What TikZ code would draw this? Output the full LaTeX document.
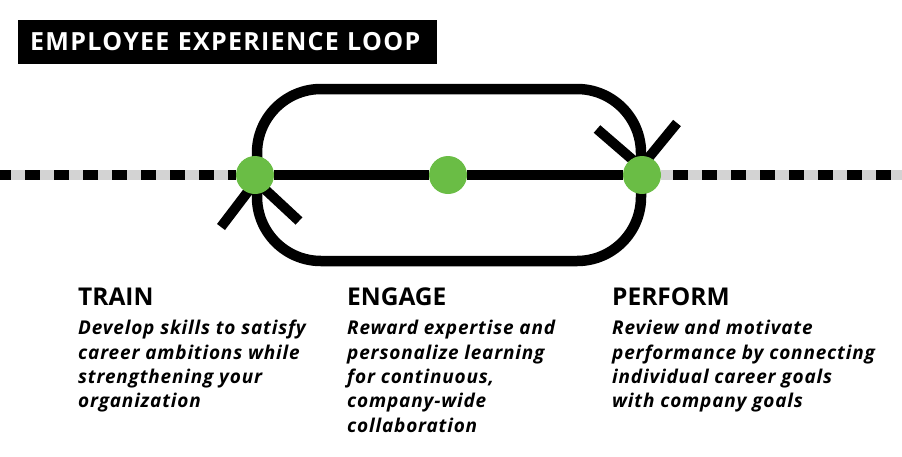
\documentclass[tikz,border=0pt]{standalone}
\usepackage{fontspec}
\setmainfont{Open Sans}
\usepackage{tikz}
\usetikzlibrary{backgrounds}
\usetikzlibrary{positioning}
\definecolor{leafgreen}{HTML}{6ABD45}
\definecolor{railgray}{HTML}{D3D3D3}
\tikzset{station/.style={circle,fill=leafgreen,minimum size=38pt,inner sep=0pt}}
\tikzset{
rail/.style={line width=10pt,black},
dashrail/.style={line width=10pt,black,dash pattern=on 14.5pt off 14.5pt},
loopbox/.style={draw,line width=10.5pt,rounded corners=64pt,minimum width=384pt,minimum height=172pt,inner sep=0pt},
titlebox/.style={fill=black,text=white,font=\fontsize{25}{28}\bfseries\addfontfeature{LetterSpace=5.2},inner xsep=12pt,minimum height=44pt,minimum width=419pt,anchor=west,align=left,text width=395pt},
stagehead/.style={font=\fontsize{24.5}{28}\bfseries,inner sep=0pt,anchor=base west},
stagetext/.style={font=\fontsize{19}{24.4}\bfseries\itshape\addfontfeature{LetterSpace=4.3},inner sep=0pt,anchor=north west,align=left}
}

\begin{document}
\begin{tikzpicture}[x=1pt,y=-1pt,node distance=0.2cm]
\useasboundingbox (0,0) rectangle (902,456);

\node[titlebox] (title) at (18,42) {EMPLOYEE EXPERIENCE LOOP};

% the three stops on the line
\node[station] (T) at (255,175) {};
\node[station] (E) at (448,175) {};
\node[station] (P) at (642,175) {};

\coordinate (lend) at (0,175);
\coordinate (rend) at (902,175);
\coordinate (ta) at (256,181);
\coordinate (tl) at (221,227);
\coordinate (tr) at (299,221);
\coordinate (pa) at (641,167);
\coordinate (pl) at (597,129);
\coordinate (pr) at (677,123);

\begin{scope}[on background layer]
 \node[loopbox] (loop) at (449,175) {};
 \draw[line width=10pt,railgray] (lend) -- (T);
 \draw[dashrail,dash phase=4pt] (lend) -- (T);
 \draw[line width=10pt,railgray] (P) -- (rend);
 \draw[dashrail,dash phase=17pt] (P) -- (rend);
 \draw[rail] (T) -- (E) -- (P);
 \draw[rail] (tl) -- (ta) -- (tr);
 \draw[rail] (pl) -- (pa) -- (pr);
\end{scope}

\node[stagehead] (trainhead) at (78,305) {TRAIN};
\node[stagetext] (traintext) at (78,320) {Develop skills to satisfy\\career ambitions while\\strengthening your\\organization};

\node[stagehead] (engagehead) at (347,305) {ENGAGE};
\node[stagetext] (engagetext) at (347,320) {Reward expertise and\\personalize learning\\for continuous,\\company-wide\\collaboration};

\node[stagehead] (performhead) at (612,305) {PERFORM};
\node[stagetext] (performtext) at (612,320) {Review and motivate\\performance by connecting\\individual career goals\\with company goals};

\end{tikzpicture}
\end{document}
